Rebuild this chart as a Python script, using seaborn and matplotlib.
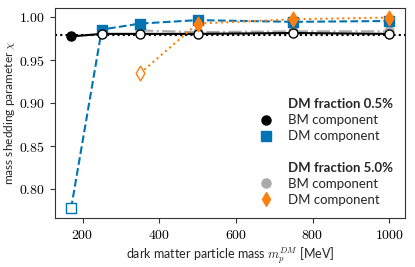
import numpy as np
import pandas as pd
import matplotlib
matplotlib.use("Agg")
import matplotlib.pyplot as plt
import seaborn as sns
from matplotlib.lines import Line2D
from matplotlib.ticker import FuncFormatter

# ---- data ----
mass_05 = [170, 250, 350, 500, 750, 1000]
bm_05 = [0.977, 0.980, 0.980, 0.980, 0.981, 0.980]
bm_05_filled = [True, False, False, False, False, False]
dm_05 = [0.777, 0.985, 0.992, 0.996, 0.994, 0.995]
dm_05_filled = [False, True, True, True, True, True]

mass_5 = [350, 500, 750, 1000]
bm_5 = [0.984, 0.982, 0.983, 0.983]
dm_5 = [0.934, 0.992, 0.997, 0.999]
dm_5_filled = [False, True, True, True]

ref_level = 0.979

BLUE = "#0173b2"
ORANGE = "#ff7f0e"
GRAY = "#aaaaaa"

sns.set_style("ticks")
plt.rcParams["mathtext.fontset"] = "cm"
plt.rcParams["font.family"] = ["Lato", "DejaVu Sans"]

fig, ax = plt.subplots(figsize=(4.15, 2.67), dpi=100)

def series(x, y, color, ls, marker, filled, z, ms=6.5):
    df = pd.DataFrame({"x": x, "y": y, "f": filled})
    sns.lineplot(data=df, x="x", y="y", color=color, linestyle=ls, lw=1.5,
                 ax=ax, zorder=z, legend=False)
    a = df[df.f]
    b = df[~df.f]
    if len(a):
        sns.scatterplot(data=a, x="x", y="y", color=color, marker=marker,
                        s=ms**2, edgecolor=color, linewidth=1.0, ax=ax,
                        zorder=z + 0.5, legend=False)
    if len(b):
        sns.scatterplot(data=b, x="x", y="y", facecolor="white", marker=marker,
                        s=ms**2, edgecolor=color, linewidth=1.0, ax=ax,
                        zorder=z + 0.5, legend=False)

ax.axhline(ref_level, color="black", ls=(0, (1, 1.5)), lw=1.5, zorder=1)
series(mass_5, bm_5, GRAY, "-.", "o", [True] * 4, 2)
series(mass_05, dm_05, BLUE, "--", "s", dm_05_filled, 3)
series(mass_05, bm_05, "black", "-", "o", bm_05_filled, 4)
series(mass_5, dm_5, ORANGE, ":", "d", dm_5_filled, 5, ms=7.5)

ax.set_xlabel(r"dark matter particle mass $m_p^{DM}$ [MeV]", fontsize=9)
ax.set_ylabel(r"mass shedding parameter $\chi$", fontsize=8.6, labelpad=2)
ax.set_xticks([200, 400, 600, 800, 1000])
ax.set_yticks([0.80, 0.85, 0.90, 0.95, 1.00])
ax.xaxis.set_major_formatter(FuncFormatter(lambda v, p: r"$%d$" % v))
ax.yaxis.set_major_formatter(FuncFormatter(lambda v, p: r"$%.2f$" % v))
ax.tick_params(labelsize=10, length=3.5, width=0.8, colors="#333333", labelcolor="black")
for s in ax.spines.values():
    s.set_color("#333333")
    s.set_linewidth(0.8)

blank = Line2D([], [], linestyle="none", marker=None)
handles = [
    blank,
    Line2D([], [], ls="none", marker="o", color="black", ms=6.5),
    Line2D([], [], ls="none", marker="s", color=BLUE, ms=6.5),
    blank,
    blank,
    Line2D([], [], ls="none", marker="o", color=GRAY, ms=6.5),
    Line2D([], [], ls="none", marker="d", color=ORANGE, ms=7.5),
]
labels = ["DM fraction 0.5%", "BM component", "DM component", "",
          "DM fraction 5.0%", "BM component", "DM component"]
leg = ax.legend(handles, labels, loc="lower right", frameon=False, fontsize=9.5,
                handlelength=1.0, handletextpad=1.2, labelspacing=0.3,
                borderaxespad=0.5)
for i in (0, 4):
    leg.get_texts()[i].set_fontweight("bold")

fig.subplots_adjust(left=0.133, right=0.976, bottom=0.184, top=0.97)
fig.savefig("out.png", dpi=100)
